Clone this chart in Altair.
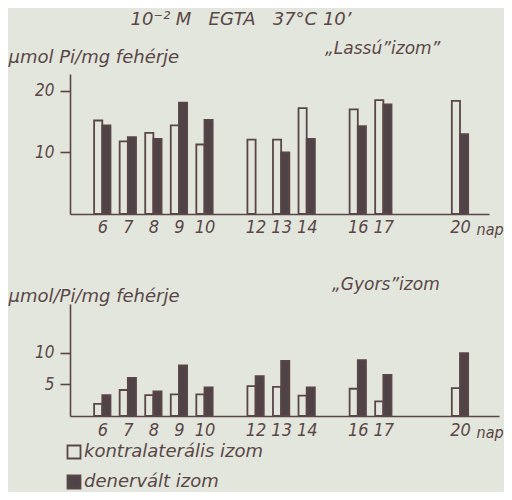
import altair as alt
import pandas as pd

# ---- data ----
days = [6, 7, 8, 9, 10, 12, 13, 14, 16, 17, 20]
series_names = ["kontralaterális izom", "denervált izom"]

slow_kontra = [15.2, 11.8, 13.2, 14.4, 11.3, 12.1, 12.1, 17.2, 17.0, 18.5, 18.4]
slow_dener = [14.4, 12.5, 12.2, 18.1, 15.3, None, 10.0, 12.2, 14.3, 17.8, 13.0]

fast_kontra = [1.9, 4.1, 3.3, 3.4, 3.4, 4.7, 4.6, 3.2, 4.3, 2.3, 4.4]
fast_dener = [3.3, 6.0, 3.9, 8.0, 4.5, 6.3, 8.7, 4.5, 8.8, 6.5, 9.9]

title_text = "10\u207b\u00b2 M\u00a0\u00a0 EGTA\u00a0\u00a0 37°C 10’"
slow_label = "„Lassú”izom”"
fast_label = "„Gyors”izom"
slow_ytitle = "μmol Pi/mg fehérje"
fast_ytitle = "μmol/Pi/mg fehérje"
x_unit = "nap"
slow_yticks = [10, 20]
fast_yticks = [5, 10]

BG = "#e3e6dc"
INK = "#5a4648"
DARK = "#4f4347"
FONT = "DejaVu Sans"
NARROW = "Liberation Sans Narrow, DejaVu Sans Condensed, DejaVu Sans"
BW = 0.32


def long_df(kontra, dener):
    rows = []
    for d, a, b in zip(days, kontra, dener):
        if a is not None:
            rows.append({"nap": d, "sorozat": series_names[0], "ertek": a})
        if b is not None:
            rows.append({"nap": d, "sorozat": series_names[1], "ertek": b})
    return pd.DataFrame(rows)


def text_layer(txt, px, py, size=17, font=FONT, align="left"):
    return alt.Chart(pd.DataFrame({"t": [txt]})).mark_text(
        align=align, baseline="alphabetic", font=font, fontSize=size,
        fontStyle="italic", color=INK
    ).encode(text="t:N", x=alt.value(px), y=alt.value(py))


def panel(df, xmax, ymax, yvals, ytitle, ytitle_y, nap_x, nap_y, lab_pad, legend):
    s0 = series_names[0]
    bars = alt.Chart(df).transform_calculate(
        x0=f"datum.sorozat == '{s0}' ? datum.nap - {BW} : datum.nap",
        x1=f"datum.sorozat == '{s0}' ? datum.nap : datum.nap + {BW}",
        y0="0",
    ).mark_bar(stroke=INK, strokeWidth=1.8).encode(
        x=alt.X(
            "x0:Q",
            scale=alt.Scale(domain=[4.736, xmax], nice=False, zero=False, padding=0),
            axis=alt.Axis(
                values=days, ticks=False, grid=False, domainColor=INK,
                domainWidth=1.6, labelFont=NARROW, labelFontSize=18,
                labelFontStyle="italic", labelColor=INK, labelPadding=lab_pad,
                labelOverlap=False, labelFlush=False, labelBound=False,
                title=x_unit, titleX=nap_x, titleY=nap_y, titleAngle=0,
                titleAlign="left", titleBaseline="alphabetic", titleFont=NARROW,
                titleFontSize=16, titleFontStyle="italic",
                titleFontWeight="normal", titleColor=INK,
            ),
        ),
        x2="x1:Q",
        y=alt.Y(
            "ertek:Q",
            scale=alt.Scale(domain=[0, ymax], nice=False, padding=0),
            axis=alt.Axis(
                values=yvals, grid=False, domainColor=INK, domainWidth=1.6,
                tickColor=INK, tickWidth=1.6, tickSize=10, labelFont=NARROW,
                labelFontSize=17, labelFontStyle="italic", labelColor=INK,
                labelPadding=6, title=ytitle, titleX=-62, titleY=ytitle_y,
                titleAngle=0, titleAlign="left", titleBaseline="alphabetic",
                titleFont=FONT, titleFontSize=18, titleFontStyle="italic",
                titleFontWeight="normal", titleColor=INK,
            ),
        ),
        y2="y0:Q",
        fill=alt.Fill(
            "sorozat:N",
            scale=alt.Scale(domain=series_names, range=[BG, DARK]),
            legend=legend,
        ),
    )
    return bars


top_bars = panel(long_df(slow_kontra, slow_dener), 21.135, 22.76,
                 slow_yticks, slow_ytitle, -12, 406, 20, 4, None)
top = alt.layer(
    top_bars,
    text_layer(title_text, 171, -49, size=18, align="center"),
    text_layer(slow_label, 255, -20),
).properties(width=419, height=140)

legend = alt.Legend(
    orient="none", legendX=-5, legendY=139, title=None, direction="vertical",
    symbolType="square", symbolSize=169, symbolStrokeColor=INK,
    symbolStrokeWidth=1.8, labelFont=FONT, labelFontSize=18,
    labelFontStyle="italic", labelColor=INK, labelOffset=1, labelLimit=400,
    rowPadding=8, padding=0,
)
bottom_bars = panel(long_df(fast_kontra, fast_dener), 21.527, 17.67,
                    fast_yticks, fast_ytitle, -3, 406, 21, 5, legend)
bottom = alt.layer(
    bottom_bars,
    text_layer(fast_label, 262, -14),
).properties(width=429, height=112)

chart = alt.vconcat(top, bottom, spacing=90, bounds="flush").resolve_scale(
    x="independent", y="independent", fill="independent"
).properties(
    autosize=alt.AutoSizeParams(type="none"),
    padding={"left": 62, "top": 66, "right": 434, "bottom": 418},
).configure(background=BG).configure_view(stroke=None)

chart.save("out.html", embed_options={"renderer": "svg", "actions": False})
